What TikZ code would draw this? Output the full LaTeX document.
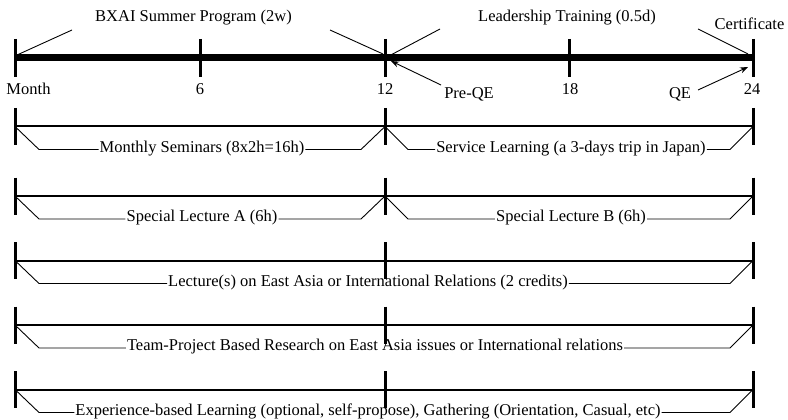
\documentclass[tikz,border=0pt]{standalone}
\usepackage{fontspec}
\setmainfont{Liberation Serif}
\usetikzlibrary{arrows.meta}
\begin{document}
\begin{tikzpicture}[x=1pt,y=-1pt,
  lbl/.style={font=\fontsize{16.5}{18}\selectfont, inner sep=0pt},
  axisline/.style={line width=7pt},
  maintick/.style={line width=3pt},
  rowline/.style={line width=2pt},
  rowtick/.style={line width=3pt},
  bracket/.style={line width=0.9pt},
  pointer/.style={line width=0.9pt},
  arrowed/.style={line width=0.9pt,-{Stealth[length=8pt,width=6pt]}},
  rowtext/.style={lbl, text height=0.69em, text depth=0.18em, inner xsep=1pt}
]
\useasboundingbox (0,0) rectangle (788,420);

% main timeline
\coordinate (t0) at (15,58);
\coordinate (t6) at (200,58);
\coordinate (t12) at (385,58);
\coordinate (t18) at (569,58);
\coordinate (t24) at (753,58);
\draw[axisline] (t0) -- (t24);
\foreach \t in {t0,t6,t12,t18,t24}{
  \draw[maintick] (\t) ++(0,-19) -- ++(0,38);
}

% month labels
\node[lbl,anchor=base] (m0) at (28.5,95) {Month};
\node[lbl,anchor=base] (m6) at (200,95) {6};
\node[lbl,anchor=base] (m12) at (385,95) {12};
\node[lbl,anchor=base] (m18) at (570,95) {18};
\node[lbl,anchor=base] (m24) at (752,95) {24};
\node[lbl,anchor=base] (preqe) at (469,99) {Pre-QE};
\node[lbl,anchor=base] (qe) at (680,99) {QE};

% top labels
\node[lbl,anchor=base] (bxai) at (193.5,21.7) {BXAI Summer Program (2w)};
\node[lbl,anchor=base] (lead) at (567,21.7) {Leadership Training (0.5d)};
\node[lbl,anchor=base] (cert) at (749.5,30) {Certificate};

% pointer lines
\coordinate (bxa) at (72,30);
\coordinate (bxb) at (17,55);
\coordinate (bxc) at (330,30);
\coordinate (bxd) at (383,54);
\coordinate (lda) at (440,29);
\coordinate (ldb) at (387,57);
\coordinate (ldc) at (698,29);
\coordinate (ldd) at (748,54);
\draw[pointer] (bxa) -- (bxb);
\draw[pointer] (bxc) -- (bxd);
\draw[pointer] (lda) -- (ldb);
\draw[pointer] (ldc) -- (ldd);
\coordinate (pqa) at (441,85);
\coordinate (pqb) at (391,61);
\coordinate (qea) at (698,90);
\coordinate (qeb) at (748,67);
\draw[arrowed] (pqa) -- (pqb);
\draw[arrowed] (qea) -- (qeb);

% rows
\foreach \h/\n in {126.5/1,196/2,260.5/3,325/4,389.5/5}{
  \coordinate (r\n a) at (15,\h);
  \coordinate (r\n b) at (385,\h);
  \coordinate (r\n c) at (753,\h);
  \draw[rowline] (r\n a) -- (r\n c);
  \foreach \p in {a,b,c}{
    \draw[rowtick] (r\n\p) ++(0,-18.5) -- ++(0,37);
  }
}

% row 1
\node[rowtext] (ms) at (202,149.5) {Monthly Seminars (8x2h=16h)};
\node[rowtext] (sl) at (571,149.5) {Service Learning (a 3-days trip in Japan)};
\draw[bracket] (r1a) -- ++(24,23) -- (ms.west);
\draw[bracket] (r1b) -- ++(-24,23) -- (ms.east);
\draw[bracket] (r1b) -- ++(23,23) -- (sl.west);
\draw[bracket] (r1c) -- ++(-23,23) -- (sl.east);

% row 2
\node[rowtext] (sla) at (202,219) {Special Lecture A (6h)};
\node[rowtext] (slb) at (571,219) {Special Lecture B (6h)};
\draw[bracket] (r2a) -- ++(24,23) -- (sla.west);
\draw[bracket] (r2b) -- ++(-24,23) -- (sla.east);
\draw[bracket] (r2b) -- ++(23,23) -- (slb.west);
\draw[bracket] (r2c) -- ++(-23,23) -- (slb.east);

% row 3
\node[rowtext] (lec) at (368,283.5) {Lecture(s) on East Asia or International Relations (2 credits)};
\draw[bracket] (r3a) -- ++(24,23) -- (lec.west);
\draw[bracket] (r3c) -- ++(-23,23) -- (lec.east);

% row 4
\node[rowtext] (tpr) at (375,348) {Team-Project Based Research on East Asia issues or International relations};
\draw[bracket] (r4a) -- ++(24,23) -- (tpr.west);
\draw[bracket] (r4c) -- ++(-23,23) -- (tpr.east);

% row 5
\node[rowtext] (exp) at (368,412.5) {Experience-based Learning (optional, self-propose), Gathering (Orientation, Casual, etc)};
\draw[bracket] (r5a) -- ++(24,23) -- (exp.west);
\draw[bracket] (r5c) -- ++(-23,23) -- (exp.east);
\end{tikzpicture}
\end{document}
